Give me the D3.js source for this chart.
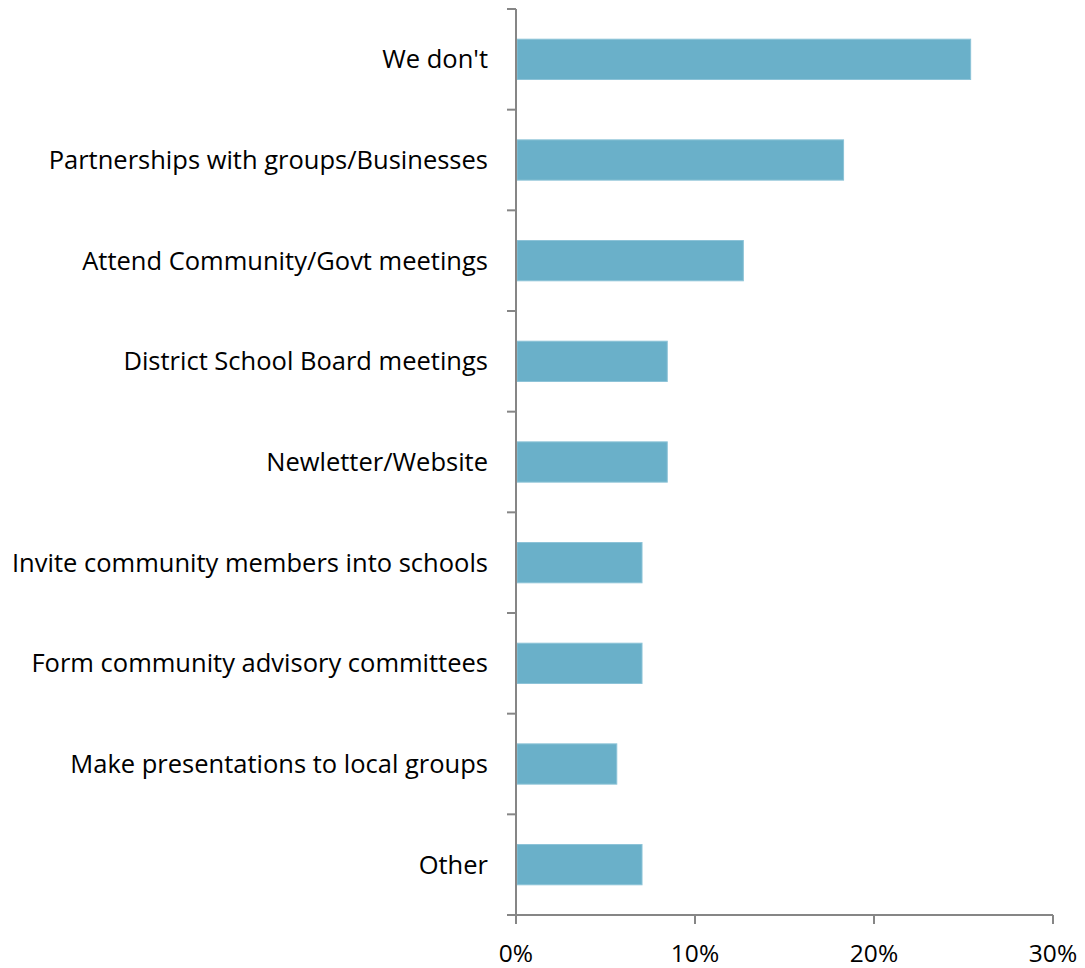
<!DOCTYPE html>
<html>
<head>
<meta charset="utf-8">
<script src="https://d3js.org/d3.v7.min.js"></script>
<style>
  body { margin: 0; background: #fff; }
  text { font-family: "Open Sans", Lato, sans-serif; fill: #000; }
</style>
</head>
<body>
<div id="chart"></div>
<script>
// categories top to bottom
const categories = [
    "We don't",
    "Partnerships with groups/Businesses",
    "Attend Community/Govt meetings",
    "District School Board meetings",
    "Newletter/Website",
    "Invite community members into schools",
    "Form community advisory committees",
    "Make presentations to local groups",
    "Other"
];
// share of responses, percent
const values = [25.4, 18.3, 12.7, 8.45, 8.45, 7.04, 7.04, 5.63, 7.04];
const xTicks = [0, 10, 20, 30];

const width = 1085, height = 968;
const margin = { top: 9, right: 32, bottom: 53, left: 516 };

const svg = d3.select("#chart")
    .append("svg")
    .attr("width", width)
    .attr("height", height);

const x = d3.scaleLinear()
    .domain([0, 30])
    .range([margin.left, width - margin.right]);

const y = d3.scaleBand()
    .domain(categories)
    .range([margin.top, height - margin.bottom])
    .paddingInner(0.6)
    .paddingOuter(0.3);

// bars
svg.append("g")
    .selectAll("rect")
    .data(categories)
    .join("rect")
    .attr("x", x(0) + 1)
    .attr("y", d => y(d))
    .attr("width", (d, i) => x(values[i]) - x(0) - 1)
    .attr("height", y.bandwidth())
    .attr("fill", "#6ab0c9")
    .attr("stroke", "#8cc3d7")
    .attr("stroke-width", 1);

const axisColor = "#868686";
const step = y.step();

// y axis: line and category boundary ticks
const yAxis = svg.append("g");
yAxis.append("line")
    .attr("x1", x(0)).attr("x2", x(0))
    .attr("y1", margin.top).attr("y2", height - margin.bottom)
    .attr("stroke", axisColor).attr("stroke-width", 2);
yAxis.selectAll(".ytick")
    .data(d3.range(categories.length + 1))
    .join("line")
    .attr("class", "ytick")
    .attr("x1", x(0) - 9).attr("x2", x(0))
    .attr("y1", i => margin.top + i * step)
    .attr("y2", i => margin.top + i * step)
    .attr("stroke", axisColor).attr("stroke-width", 2);
yAxis.selectAll(".ylabel")
    .data(categories)
    .join("text")
    .attr("class", "ylabel")
    .attr("x", x(0) - 28)
    .attr("y", d => y(d) + y.bandwidth() / 2)
    .attr("dy", "0.35em")
    .attr("text-anchor", "end")
    .style("font-size", "25.5px")
    .text(d => d);

// x axis
const baseY = height - margin.bottom;
const xAxis = svg.append("g");
xAxis.append("line")
    .attr("x1", x(0)).attr("x2", x(30))
    .attr("y1", baseY).attr("y2", baseY)
    .attr("stroke", axisColor).attr("stroke-width", 2);
xAxis.selectAll(".xtick")
    .data(xTicks)
    .join("line")
    .attr("class", "xtick")
    .attr("x1", d => x(d)).attr("x2", d => x(d))
    .attr("y1", baseY).attr("y2", baseY + 9)
    .attr("stroke", axisColor).attr("stroke-width", 2);
xAxis.selectAll(".xlabel")
    .data(xTicks)
    .join("text")
    .attr("class", "xlabel")
    .attr("x", d => x(d))
    .attr("y", baseY + 47)
    .attr("text-anchor", "middle")
    .style("font-size", "24.5px")
    .text(d => d + "%");
</script>
</body>
</html>
